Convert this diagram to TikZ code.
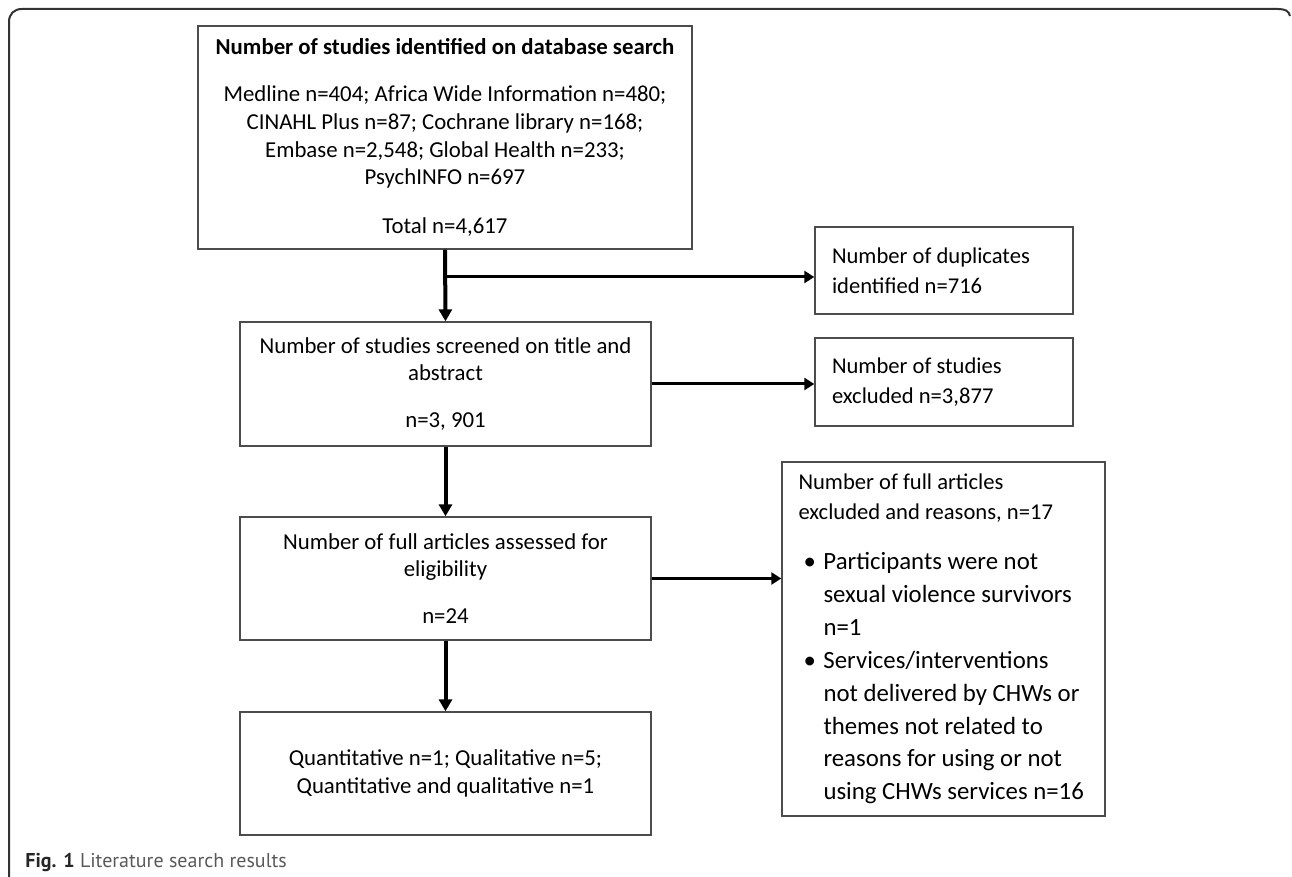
\documentclass[tikz,border=0pt]{standalone}
\usepackage{fontspec}
\setmainfont{Carlito}
\newfontfamily\capfont{PT Sans}
\usetikzlibrary{arrows.meta, positioning, calc}

\newcommand{\itembul}{\hspace*{2.5pt}\makebox[10pt][l]{\textbullet}}
\newcommand{\itemind}{\hspace*{12.5pt}}
\newcommand{\headsize}{\fontsize{11.3}{15}\selectfont}

\begin{document}
\begin{tikzpicture}[
  x=0.5pt, y=-0.5pt,
  box/.style={draw=black!70, line width=0.7pt, align=flush center, inner sep=0pt, font=\fontsize{11.4}{13.85}\selectfont},
  sidebox/.style={draw=black!70, line width=0.7pt, align=flush left, inner sep=0pt, font=\headsize},
  down/.style={-{Triangle[width=6.5pt,length=6pt]}, line width=2pt},
  side/.style={-{Triangle[width=6pt,length=5pt]}, line width=1.5pt}
]
\useasboundingbox (0,0) rectangle (1292,877);

% frame and caption
\draw[line width=1pt, black!80] (9,877) -- (9,22) .. controls (9,14) and (14,9) .. (22,9) -- (1278,9) .. controls (1285,9) and (1289,11) .. (1290,16);
\node[anchor=west, inner sep=0pt, font=\capfont\fontsize{10}{12}\selectfont, text=black!65] (caption) at (25,862) {\textcolor{black!85}{\textbf{Fig. 1}} Literature search results};

% main column
\node[box, minimum width=247pt, minimum height=111.5pt, text width=240pt] (search) at (445,137.5) {\textbf{Number of studies identified on database search}\\[9.6pt]
Medline n=404; Africa Wide Information n=480;\\
CINAHL Plus n=87; Cochrane library n=168;\\
Embase n=2,548; Global Health n=233;\\
PsychINFO n=697\\[10.5pt]
Total n=4,617};
\node[box, minimum width=205.5pt, minimum height=62pt, text width=200pt] (screen) at (445.5,384) {Number of studies screened on title and\\abstract\\[9.6pt]n=3, 901};
\node[box, minimum width=205.5pt, minimum height=61.5pt, text width=200pt] (full) at (445.5,578.5) {Number of full articles assessed for\\eligibility\\[9.6pt]n=24};
\node[box, minimum width=205.5pt, minimum height=61.5pt, text width=200pt] (incl) at (445.5,773.5) {Quantitative n=1; Qualitative n=5;\\Quantitative and qualitative n=1};

% side column
\node[sidebox, minimum width=129pt, minimum height=43.5pt, text width=112pt] (dup) at (944,270.5) {Number of duplicates\\identified n=716};
\node[sidebox, minimum width=129pt, minimum height=44pt, text width=112pt] (excl) at (944,382) {Number of studies\\excluded n=3,877};
\node[sidebox, minimum width=161.5pt, minimum height=177pt, text width=145pt, font=\fontsize{12.4}{16.45}\selectfont] (reasons) at (943.5,639) {{\headsize Number of full articles}\\[-1.45pt]
{\headsize excluded and reasons, n=17}\\[8.5pt]
\itembul Participants were not\\
\itemind sexual violence survivors\\
\itemind n=1\\
\itembul Services/interventions\\
\itemind not delivered by CHWs or\\
\itemind themes not related to\\
\itemind reasons for using or not\\
\itemind using CHWs services n=16};

% connectors
\coordinate (split) at (445,277);
\draw[down] (search.south) -- (screen.north);
\draw[down] (screen.south) -- (full.north);
\draw[down] (full.south) -- (incl.north);
\draw[side] (split) -- (split -| dup.west);
\draw[side] (screen.east) -- (screen.east -| excl.west);
\draw[side] (full.east) -- (full.east -| reasons.west);
\end{tikzpicture}
\end{document}
